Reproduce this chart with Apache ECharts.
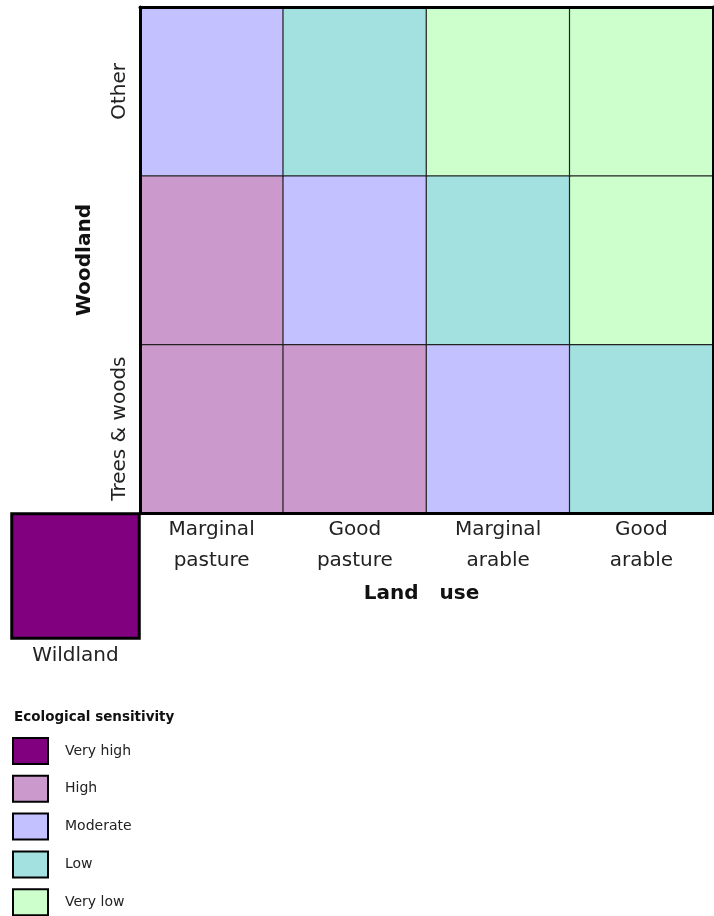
<!DOCTYPE html>
<html>
<head>
<meta charset="utf-8">
<script src="https://cdn.jsdelivr.net/npm/echarts@6/dist/echarts.min.js"></script>
<style>html,body{margin:0;padding:0;background:#fff}#c{width:714px;height:916px}</style>
</head>
<body>
<div id="c"></div>
<script>
// ---- data ----
var landUse = ['Marginal\npasture', 'Good\npasture', 'Marginal\narable', 'Good\narable'];
var woodland = ['Trees & woods', 'Wooded', 'Other'];           // bottom -> top
var levels = ['Very high', 'High', 'Moderate', 'Low', 'Very low'];
var levelColors = ['#800080', '#CC99CC', '#C3C1FF', '#A3E0E0', '#CCFFCC'];
// sensitivity index per row (woodland) and column (land use)
var rowTreesWoods = [1, 1, 2, 3];
var rowWooded = [1, 2, 3, 4];
var rowOther = [2, 3, 4, 4];
var wildlandCat = ['Wildland'];
var wildlandValue = [0];

var font = 'DejaVu Sans, Verdana, sans-serif';
var rows = [rowTreesWoods, rowWooded, rowOther];
var mainData = [];
rows.forEach(function (r, yi) { r.forEach(function (v, xi) { mainData.push([xi, yi, v]); }); });
var wildData = wildlandValue.map(function (v, i) { return [i, 0, v]; });

var chart = echarts.init(document.getElementById('c'), null, {renderer: 'canvas'});

var legendEls = [{
  type: 'text', left: 14, top: 710,
  style: {text: 'Ecological sensitivity', font: 'bold 13.5px ' + font, fill: '#111'}
}];
levels.forEach(function (name, i) {
  legendEls.push({
    type: 'rect', left: 12, top: 737 + i * 37.8,
    shape: {width: 35, height: 26},
    style: {fill: levelColors[i], stroke: '#000', lineWidth: 2}
  });
  legendEls.push({
    type: 'text', left: 65, top: 744 + i * 37.8,
    style: {text: name, font: '14px ' + font, fill: '#222'}
  });
});

var option = {
  animation: false,
  backgroundColor: '#fff',
  grid: [
    {left: 140, top: 7, width: 573, height: 506},
    {left: 12, top: 514, width: 127, height: 124}
  ],
  xAxis: [
    {
      type: 'category', gridIndex: 0, data: landUse, position: 'bottom', z: 10,
      axisLine: {lineStyle: {color: '#000', width: 3}},
      axisTick: {show: false}, splitLine: {show: false},
      axisLabel: {fontFamily: font, fontSize: 20, color: '#222', lineHeight: 31, margin: 1},
      name: 'Land   use', nameLocation: 'middle', nameGap: 71,
      nameTextStyle: {fontFamily: font, fontSize: 20, fontWeight: 'bold', color: '#111', padding: [0, 10, 0, 0]}
    },
    {
      type: 'category', gridIndex: 0, data: landUse, position: 'top', z: 10,
      axisLine: {lineStyle: {color: '#000', width: 3}},
      axisTick: {show: false}, axisLabel: {show: false}, splitLine: {show: false}
    },
    {
      type: 'category', gridIndex: 1, data: wildlandCat, position: 'bottom', z: 10,
      axisLine: {show: false}, axisTick: {show: false}, splitLine: {show: false},
      axisLabel: {fontFamily: font, fontSize: 20, color: '#222', margin: 8}
    }
  ],
  yAxis: [
    {
      type: 'category', gridIndex: 0, data: woodland, position: 'left', z: 10,
      axisLine: {lineStyle: {color: '#000', width: 3}},
      axisTick: {show: false}, splitLine: {show: false},
      axisLabel: {fontFamily: font, fontSize: 20, color: '#222', rotate: 90, margin: 10},
      name: 'Woodland', nameLocation: 'middle', nameGap: 45, nameRotate: 90,
      nameTextStyle: {fontFamily: font, fontSize: 20, fontWeight: 'bold', color: '#111'}
    },
    {
      type: 'category', gridIndex: 0, data: woodland, position: 'right', z: 10,
      axisLine: {lineStyle: {color: '#000', width: 3}},
      axisTick: {show: false}, axisLabel: {show: false}, splitLine: {show: false}
    },
    {
      type: 'category', gridIndex: 1, data: [''], z: 10,
      axisLine: {show: false}, axisTick: {show: false}, axisLabel: {show: false}, splitLine: {show: false}
    }
  ],
  visualMap: {
    type: 'piecewise', show: false, dimension: 2,
    pieces: levels.map(function (l, i) { return {value: i, color: levelColors[i], label: l}; })
  },
  series: [
    {
      type: 'heatmap', xAxisIndex: 0, yAxisIndex: 0, data: mainData,
      itemStyle: {borderColor: '#222', borderWidth: 1.2},
      emphasis: {disabled: true}
    },
    {
      type: 'heatmap', xAxisIndex: 2, yAxisIndex: 2, data: wildData,
      itemStyle: {borderColor: '#000', borderWidth: 3},
      emphasis: {disabled: true}
    }
  ],
  graphic: legendEls
};
chart.setOption(option);
</script>
</body>
</html>
